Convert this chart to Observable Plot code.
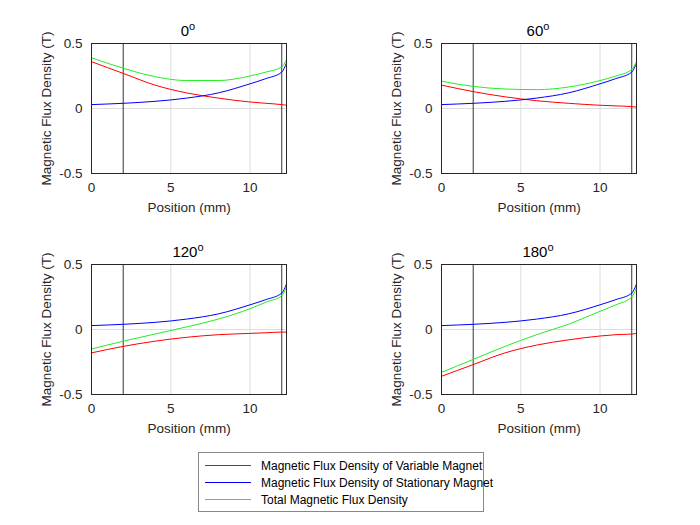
<!DOCTYPE html>
<html><head>
<script src="https://cdn.jsdelivr.net/npm/d3@7"></script>
<script src="https://cdn.jsdelivr.net/npm/@observablehq/plot@0.6"></script>
<style>
body{margin:0;background:#fff;font-family:Arial,"Liberation Sans",sans-serif}
#wrap{position:relative;width:700px;height:525px}
.p{position:absolute}
.t{position:absolute;font-size:15px;width:200px;text-align:center}
.t sup{font-size:11px}
#leg{position:absolute;left:198px;top:452px;width:286px;height:60px;border:1px solid #888;font-size:12px;box-sizing:border-box;padding-top:4px;white-space:nowrap}
#leg div{display:flex;align-items:center;height:17px}
#leg i{display:inline-block;flex:0 0 46px;height:1px;margin:0 10px 0 6px}
</style></head>
<body><div id="wrap"></div>
<script>
// sample positions (mm)
const xs = [0, 2, 4, 6, 8, 10, 11, 12, 12.3];
const blue = [0.03, 0.04, 0.055, 0.08, 0.12, 0.19, 0.23, 0.28, 0.35 - 0.0];
const red0 = [0.36, 0.27, 0.18, 0.12, 0.08, 0.05, 0.04, 0.03, 0.025];
const green0 = [0.39, 0.31, 0.245, 0.215, 0.215, 0.25, 0.28, 0.32, 0.375];
const red60 = [0.18, 0.13, 0.09, 0.06, 0.04, 0.025, 0.02, 0.015, 0.01];
const green60 = [0.21, 0.17, 0.15, 0.145, 0.165, 0.215, 0.25, 0.3, 0.36];
const red120 = [-0.18, -0.13, -0.09, -0.06, -0.04, -0.03, -0.025, -0.02, -0.02];
const green120 = [-0.15, -0.09, -0.035, 0.02, 0.08, 0.16, 0.21, 0.26, 0.33];
const red180 = [-0.36, -0.27, -0.18, -0.12, -0.08, -0.05, -0.04, -0.035, -0.03];
const green180 = [-0.33, -0.23, -0.13, -0.04, 0.04, 0.14, 0.19, 0.25, 0.32];

const panels = [
  {title: "0", red: red0, green: green0, left: 0, top: 0},
  {title: "60", red: red60, green: green60, left: 350, top: 0},
  {title: "120", red: red120, green: green120, left: 0, top: 221},
  {title: "180", red: red180, green: green180, left: 350, top: 221}
];
const wrap = document.getElementById("wrap");

panels.forEach(p => {
  const line = (ys, c) => Plot.line(xs.map((x, i) => ({x, y: ys[i]})), {x: "x", y: "y", stroke: c, curve: "monotone-x", strokeWidth: 1});
  const chart = Plot.plot({
    width: 300, height: 230,
    marginLeft: 91, marginRight: 14, marginTop: 43, marginBottom: 57,
    style: {fontSize: "13.5px", fontFamily: "Arial, 'Liberation Sans', sans-serif", color: "#262626"},
    x: {domain: [0, 12.3], ticks: [0, 5, 10], label: "Position (mm)", labelAnchor: "center", labelArrow: "none", labelOffset: 38, tickSize: 0},
    y: {domain: [-0.5, 0.5], ticks: [-0.5, 0, 0.5], label: "Magnetic Flux Density (T)", labelAnchor: "center", labelArrow: "none", labelOffset: 50, tickSize: 0, tickFormat: d => d === 0 ? "0" : String(d)},
    marks: [
      Plot.gridX([0, 5, 10], {stroke: "#ddd", strokeOpacity: 1}),
      Plot.gridY([-0.5, 0, 0.5], {stroke: "#ddd", strokeOpacity: 1}),
      Plot.ruleX([2, 12], {stroke: "black", strokeWidth: 0.8}),
      line(p.red, "red"),
      line(blue, "blue"),
      line(p.green, "#22ee22"),
      Plot.frame({stroke: "#262626"})
    ]
  });
  chart.classList.add("p");
  chart.style.left = p.left + "px";
  chart.style.top = p.top + "px";
  wrap.append(chart);
  const t = document.createElement("div");
  t.className = "t";
  t.innerHTML = p.title + "<sup>o</sup>";
  t.style.left = (p.left + 91 + 97 - 100) + "px";
  t.style.top = (p.top + 20) + "px";
  wrap.append(t);
});

const leg = document.createElement("div");
leg.id = "leg";
leg.innerHTML = [["red", "Magnetic Flux Density of Variable Magnet"], ["blue", "Magnetic Flux Density of Stationary Magnet"], ["#22ee22", "Total Magnetic Flux Density"]]
  .map(([c, s]) => `<div><i style="background:${c}"></i>${s}</div>`).join("");
wrap.append(leg);
</script></body></html>
